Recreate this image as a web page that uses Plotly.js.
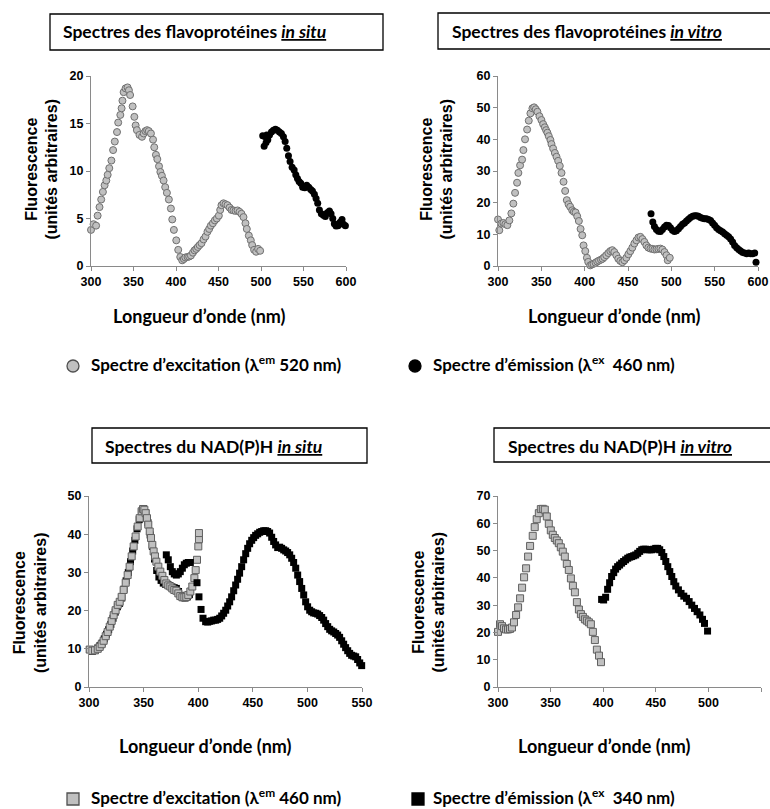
<!DOCTYPE html>
<html>
<head>
<meta charset="utf-8">
<script src="https://cdn.plot.ly/plotly-3.0.1.min.js"></script>
<style>html,body{margin:0;padding:0;background:#fff;}#chart{width:770px;height:809px;}</style>
</head>
<body>
<div id="chart"></div>
<script>
// ---- Flavoprotéines in situ ----
const flavoSituExcX = [300,303,306,307.8,310,312,314,316,318,319.6,321.5,324,326,328,330.6,332,334.5,336,337,338.4,340.7,343,344.6,346,349,351,352.5,354,357,360,362,364,366,368,370.5,373,374.4,376.4,378,380,381.6,383.4,385.4,387.3,389.3,391.6,394,395.6,397.5,400.3,402.6,405,407.3,409.3,411,413.6,415.5,417.5,419.9,421.8,423.8,425.7,427.7,430,432.4,434.7,437,439,441,443.4,445.7,448,450.4,452,453.5,455.9,458.2,460.6,463,465.3,467.6,470,472.4,474.7,477,479.4,481.7,483.3,485.7,488,489.6,491.9,494.3,496.6,499];
const flavoSituExcY = [3.8,4.4,4.25,5.3,6.2,7.0,7.8,8.5,9.0,9.6,10.3,11.1,12.2,13.1,14.1,15.1,15.9,16.6,17.4,18.3,18.7,18.8,18.5,18.0,16.8,15.7,14.8,14.3,13.8,13.6,13.95,14.2,14.3,14.2,13.95,13.3,12.5,11.7,11.25,10.5,9.9,9.5,9.0,8.3,7.7,7.0,6.05,4.9,3.8,2.7,1.7,0.95,0.6,0.74,0.9,0.95,1.0,1.1,1.4,1.65,1.8,2.0,2.2,2.4,2.8,3.1,3.6,3.9,4.25,4.5,4.8,5.0,5.3,5.9,6.4,6.6,6.5,6.4,6.15,5.9,5.85,5.8,5.85,5.7,5.5,5.15,4.5,3.9,3.2,2.7,2.2,1.7,1.5,1.8,1.6];
const flavoSituEmX = [502,505,506.8,503.7,506,508,510,512.3,514.6,517,519.3,521.7,524,526.4,528.4,530.3,532.3,534.2,536.6,539,540.9,542.9,544.8,546.8,549,551.5,553.8,556.2,558.5,560.5,562.8,564.8,566.7,568.7,571,573.4,575.7,578,580.5,582.4,584.4,586.3,588.3,590.6,593,595.3,597,599.3];
const flavoSituEmY = [13.7,13.6,13.8,12.6,13.0,13.3,13.8,14.1,14.3,14.4,14.3,14.1,13.95,13.6,13.1,12.4,11.6,11.0,10.4,10.1,9.6,9.2,8.9,8.7,8.3,8.25,8.5,8.3,8.05,7.9,7.55,7.1,6.6,5.9,5.5,5.35,5.2,5.6,5.8,5.5,5.0,4.45,4.2,4.25,4.6,4.9,4.4,4.25];

// ---- Flavoprotéines in vitro ----
const flavoVitroExcX = [300,301.5,303.9,306.2,308.5,310.8,313.1,315.4,317.7,319.7,322,323.5,325.5,327.8,329.3,331.2,333.6,335.5,337.4,339.7,341.7,343.6,345.5,347.8,350.1,352.1,354,355.5,357,358.6,360.5,361.7,363.6,365.6,367.5,369.4,371.3,373.3,375.6,377.5,379.4,381.4,383.3,385.6,387.5,389.5,391.4,393.3,395.3,397.2,398.7,400.7,402.6,404.1,406.4,408.4,410.3,412.6,414.5,416.5,418.8,420.7,422.6,424.9,427.3,429.6,431.9,434.2,436.5,438.8,441.1,443.5,445.8,448.1,450.4,452.7,455,457.3,459.7,462,464.3,466.6,468.9,471.2,473.5,475.9,478.2,480.5,482.8,485.1,487.4,489.7,492.1,494.4,495.9,498.2];
const flavoVitroExcY = [14.7,11.3,13.4,13.6,13.2,12.9,14.4,16.6,19.7,23.1,26.3,29.4,31.8,33.6,36.6,40.0,43.1,45.9,48.2,49.8,50.1,49.5,48.7,47.3,46.1,44.8,43.8,42.9,42.1,41.0,39.8,38.5,37.1,35.7,34.5,33.2,31.6,29.4,26.6,23.7,20.8,19.5,18.7,17.6,17.1,16.9,15.7,14.2,11.7,9.7,6.5,4.7,2.6,1.3,0.2,0.5,0.7,1.05,1.4,1.7,2.0,2.3,2.8,3.4,4.1,4.7,5.0,4.4,3.4,2.3,1.6,1.2,1.8,2.6,3.7,4.7,5.8,7.1,8.1,9.0,9.2,8.5,7.6,6.5,5.8,5.5,5.4,5.2,5.3,5.4,5.5,5.2,4.4,3.4,1.8,2.6];
const flavoVitroEmX = [476.6,478.6,480.5,482.8,485.1,487.4,489.7,492.1,494.4,496.7,499,501.3,503.6,505.9,508.3,510.6,512.9,515.2,517.5,519.8,522.1,524.5,526.8,529.1,531.4,533.7,536,538.3,540.6,543,545.3,547.6,549.9,552.2,554.5,556.8,559.2,561.5,563.8,566.1,568.4,570.7,573,575.4,577.7,580,582.3,584.6,586.9,589.2,591.5,593.9,596.2,597.7];
const flavoVitroEmY = [16.5,13.9,12.5,11.5,11.0,10.9,11.5,12.3,12.9,12.8,12.1,11.3,10.9,11.1,11.8,12.5,13.2,13.6,14.2,14.8,15.3,15.7,15.9,15.9,15.7,15.3,15.1,14.9,14.9,14.7,14.4,13.6,12.9,12.1,11.5,11.1,10.7,10.2,9.7,9.2,8.5,7.6,6.5,5.8,5.2,4.7,4.3,4.1,3.9,4.1,3.9,3.9,4.1,1.2];

// ---- NAD(P)H in situ ----
const nadSituEmLowX = [300.6,303,305.5,308,310,312,314,316,318,320,322,324,326,328,330,332,334,336,338,340,342,344,346,348,350,352,354,356,358,360,362,364,366,368,370,372,374,376,378,380,382,384,386,388,390,392];
const nadSituEmLowY = [9.8,9.3,9.6,10.2,10.8,11.5,12.6,13.8,15.0,16.4,18.0,19.6,21.0,21.9,23.3,25.6,27.8,30.0,32.8,35.6,38.4,41.4,43.8,45.8,46.7,45.6,43.0,39.8,36.8,33.5,30.5,28.8,27.9,27.2,26.9,26.8,26.5,26.2,26.0,25.8,25.0,24.0,23.4,23.3,23.6,24.2];
const nadSituExcX = [300.6,303,305.5,308,309.8,311.6,313.4,315.3,317.1,319,320.8,322.6,324.4,326.3,328.1,329.9,331.7,333.6,335.4,337.2,339.1,340.9,342.7,344.6,346.4,348.2,349.5,350.7,351.9,353.1,354.3,355.6,356.8,358,359.2,360.4,361.7,363.5,365.3,367.2,369,370.8,372.6,374.5,376.3,378.1,380,381.8,383.6,385.5,387.3,389.1,390.9,392.8,394.6,396.5,397.7,398.9,400.1,400.7,400.7];
const nadSituExcY = [9.8,9.5,9.6,10.0,10.5,11.2,12.1,13.3,14.4,15.8,17.3,18.8,20.1,21.5,22.3,23.6,25.4,27.3,29.3,31.5,34.2,36.8,39.4,42.0,44.2,46.0,46.6,46.4,45.5,44.2,42.5,40.7,39.0,37.2,35.5,34.2,32.8,31.5,30.2,29.1,28.0,27.1,26.6,26.3,25.8,25.4,25.2,24.5,23.8,23.5,23.5,23.6,24.1,25.0,26.3,28.5,30.6,33.3,36.8,38.7,40.3];
const nadSituEmX = [370.8,372.6,374.5,376.3,378.1,380,381.8,383.6,385.5,387.3,389.1,390.9,392.8,398.9,400.7,402.6,404.4,406.8,408.7,410.5,412.3,414.2,416,417.8,419.7,421.5,423.3,425.2,427,428.8,430.6,432.5,434.3,436.1,437.9,439.8,441.6,443.5,445.3,447.1,449,450.8,452.6,454.5,456.3,458.1,460,461.8,463.6,465.4,467.3,469.1,470.9,472.8,474.6,476.4,478.3,480.1,481.9,483.8,485.6,487.4,489.3,491.1,492.9,494.8,496.6,498.4,500.2,502.1,503.9,505.7,507.6,509.4,511.2,513.1,514.9,516.7,518.6,520.4,522.2,524.1,525.9,527.7,529.5,531.4,533.2,535,536.9,538.7,540.5,542.4,544.2,546,547.9,549.7];
const nadSituEmY = [34.6,33.3,31.5,30.2,29.6,29.3,29.6,30.2,31.1,32.0,32.4,32.6,32.6,27.3,23.6,20.3,18.0,17.1,17.0,17.2,17.3,17.5,17.5,17.7,18.0,18.6,19.3,20.1,21.2,22.3,23.6,25.2,26.7,28.2,29.8,31.5,33.3,34.9,36.3,37.5,38.4,39.1,39.7,40.1,40.5,40.7,40.9,40.9,40.7,40.3,39.2,38.1,37.2,36.5,36.6,36.3,35.9,35.6,35.2,34.6,33.7,32.6,31.1,29.3,27.6,25.8,24.1,22.3,21.0,20.1,19.7,19.4,19.3,19.1,18.7,18.2,17.5,16.6,15.8,15.1,14.7,14.4,14.0,13.6,13.0,12.1,11.2,10.3,9.5,8.8,8.3,8.1,7.9,7.2,6.3,5.6];

// ---- NAD(P)H in vitro ----
const nadVitroExcX = [300,301.9,303.8,305.7,307.6,309.5,311.4,313.3,315.2,317.2,319.1,321,322.9,324.8,326.7,328.6,330.5,333,334.9,336.8,338.8,340.7,342.6,344.5,346.4,348.3,350.2,352.1,354,355.9,357.8,359.7,361.6,363.5,365.4,367.3,369.3,371.2,373.1,375,376.9,378.8,380.7,382.6,384.5,386.4,388.3,390.2,392.1,394,396,397.9];
const nadVitroExcY = [20.2,23.0,22.3,21.5,21.1,21.1,21.3,21.8,23.7,26.4,29.2,32.5,36.4,40.2,43.5,47.8,51.7,55.4,58.6,61.5,63.7,65.2,65.3,65.0,62.5,59.8,57.4,55.8,54.6,53.7,52.7,51.2,49.6,47.8,45.1,42.9,39.8,37.1,34.7,31.1,28.4,26.7,25.7,24.8,24.3,23.7,23.0,20.2,17.2,13.7,11.5,9.1];
const nadVitroEmX = [398.5,400.4,402.3,404.2,406.1,408,410,411.8,413.7,415.6,417.5,419.4,421.3,423.3,425.2,427.1,429,430.9,432.8,434.7,436.6,438.5,440.4,442.3,444.2,446.1,448,449.9,451.8,453.7,455.7,457.6,459.5,461.4,463.3,465.2,467.1,469,471.5,474,476.6,479.2,481.7,484.2,486.8,489.3,491.9,494.4,496.3,499.2];
const nadVitroEmY = [32.1,31.9,32.9,35.8,38.2,40.5,41.9,43.2,44.1,44.7,45.4,46.0,46.6,47.2,47.6,47.8,48.1,48.4,49.0,49.7,50.3,50.5,50.5,50.3,50.3,50.3,50.5,50.8,50.8,50.3,49.3,47.8,46.0,44.1,42.3,40.5,38.6,37.0,35.6,34.3,33.3,32.5,31.3,30.0,28.8,27.6,26.4,24.8,23.3,20.5];

// ---- tick values ----
const flavoXTicks = [300,350,400,450,500,550,600];
const flavoSituYTicks = [0,5,10,15,20];
const flavoVitroYTicks = [0,10,20,30,40,50,60];
const nadXTicks = [300,350,400,450,500,550];
const nadSituYTicks = [0,10,20,30,40,50];
const nadVitroYTicks = [0,10,20,30,40,50,60,70];

const W = 770, H = 809;
const px = v => v / W;
const py = v => 1 - v / H;

const grayCircle = {symbol:'circle', size:7, color:'#c0c0c0', line:{color:'#707070', width:1}};
const blackCircle = {symbol:'circle', size:7, color:'#000000', line:{color:'#000000', width:0}};
const graySquare = {symbol:'square', size:7, color:'#c0c0c0', line:{color:'#606060', width:1}};
const blackSquare = {symbol:'square', size:7, color:'#000000', line:{color:'#000000', width:0}};

function tr(x, y, m, xa, ya) {
  return {x:x, y:y, type:'scatter', mode:'markers', marker:m, xaxis:xa, yaxis:ya, cliponaxis:false, showlegend:false, hoverinfo:'x+y'};
}

const data = [
  tr(flavoSituExcX, flavoSituExcY, grayCircle, 'x', 'y'),
  tr(flavoSituEmX, flavoSituEmY, blackCircle, 'x', 'y'),
  tr(flavoVitroExcX, flavoVitroExcY, grayCircle, 'x2', 'y2'),
  tr(flavoVitroEmX, flavoVitroEmY, blackCircle, 'x2', 'y2'),
  tr(nadSituEmLowX, nadSituEmLowY, blackSquare, 'x3', 'y3'),
  tr(nadSituExcX, nadSituExcY, graySquare, 'x3', 'y3'),
  tr(nadSituEmX, nadSituEmY, blackSquare, 'x3', 'y3'),
  tr(nadVitroExcX, nadVitroExcY, graySquare, 'x4', 'y4'),
  tr(nadVitroEmX, nadVitroEmY, blackSquare, 'x4', 'y4')
];

const tickFont = {family:'Liberation Sans, Arial, sans-serif', size:12.5, color:'#000', weight:'bold'};
function xax(dom, range, ticks, anchor) {
  return {domain:dom, range:range, tickvals:ticks, ticktext:ticks.map(String), anchor:anchor,
    showline:true, linecolor:'#8a8a8a', linewidth:1, ticks:'outside', ticklen:4, tickcolor:'#8a8a8a',
    showgrid:false, zeroline:false, tickfont:tickFont, fixedrange:true};
}
function yax(dom, range, ticks, anchor) {
  return {domain:dom, range:range, tickvals:ticks, ticktext:ticks.map(String), anchor:anchor,
    showline:true, linecolor:'#8a8a8a', linewidth:1, ticks:'outside', ticklen:4, tickcolor:'#8a8a8a',
    showgrid:false, zeroline:false, tickfont:tickFont, fixedrange:true};
}

const titleFont = {family:'Lato, Open Sans, sans-serif', size:17.5, color:'#000', weight:'bold'};
const yTitleFont = {family:'Liberation Sans, Arial, sans-serif', size:16, color:'#000', weight:'bold'};
const xTitleFont = {family:'Lato, Open Sans, sans-serif', size:18, color:'#000', weight:'bold'};
const legFont = {family:'Lato, Open Sans, sans-serif', size:17, color:'#000', weight:'bold'};

function ann(text, x, y, font, xanchor, angle) {
  return {text:text, x:px(x), y:py(y), xref:'paper', yref:'paper', showarrow:false,
    xanchor:xanchor || 'center', yanchor:'middle', font:font, textangle:angle || 0, align:'center'};
}
function box(x0, y0, x1, y1) {
  return {type:'rect', xref:'paper', yref:'paper', x0:px(x0), x1:px(x1), y0:py(y0), y1:py(y1),
    line:{color:'#000', width:1.3}, fillcolor:'rgba(0,0,0,0)'};
}
function sym(type, cx, cy, r, fill, lc) {
  return {type:type, xref:'paper', yref:'paper', x0:px(cx - r), x1:px(cx + r), y0:py(cy + r), y1:py(cy - r),
    line:{color:lc, width:1.3}, fillcolor:fill};
}

const layout = {
  width:W, height:H, margin:{l:0, r:0, t:0, b:0}, paper_bgcolor:'#fff', plot_bgcolor:'rgba(0,0,0,0)',
  showlegend:false,
  xaxis: xax([px(91), px(346)], [300,600], flavoXTicks, 'y'),
  yaxis: yax([py(266), py(76)], [0,20], flavoSituYTicks, 'x'),
  xaxis2: xax([px(498), px(758)], [300,600], flavoXTicks, 'y2'),
  yaxis2: yax([py(266), py(76)], [0,60], flavoVitroYTicks, 'x2'),
  xaxis3: xax([px(89), px(362)], [300,550], nadXTicks, 'y3'),
  yaxis3: yax([py(687), py(496)], [0,50], nadSituYTicks, 'x3'),
  xaxis4: xax([px(498), px(761)], [300,550], nadXTicks, 'y4'),
  yaxis4: yax([py(687), py(496)], [0,70], nadVitroYTicks, 'x4'),
  shapes: [
    box(50, 14, 383, 50),
    box(438, 13, 780, 49),
    box(92, 428, 367, 463),
    box(494, 428, 780, 462),
    sym('circle', 73, 366, 6, '#c0c0c0', '#505050'),
    sym('circle', 415, 366, 6, '#000', '#000'),
    sym('rect', 73, 799, 6, '#c0c0c0', '#505050'),
    sym('rect', 418, 799, 6, '#000', '#000')
  ],
  annotations: [
    ann('Spectres des flavoprotéines <i><u>in situ</u></i>', 61, 32, titleFont, 'left'),
    ann('Spectres des flavoprotéines <i><u>in vitro</u></i>', 450, 31, titleFont, 'left'),
    ann('Spectres du NAD(P)H <i><u>in situ</u></i>', 103, 446, titleFont, 'left'),
    ann('Spectres du NAD(P)H <i><u>in vitro</u></i>', 506, 446, titleFont, 'left'),
    ann('Fluorescence<br>(unités arbitraires)', 41.5, 170, yTitleFont, 'center', -90),
    ann('Fluorescence<br>(unités arbitraires)', 436.5, 170, yTitleFont, 'center', -90),
    ann('Fluorescence<br>(unités arbitraires)', 30, 603, yTitleFont, 'center', -90),
    ann('Fluorescence<br>(unités arbitraires)', 428.5, 603, yTitleFont, 'center', -90),
    ann('Longueur d’onde (nm)', 200, 316, xTitleFont),
    ann('Longueur d’onde (nm)', 614, 316, xTitleFont),
    ann('Longueur d’onde (nm)', 206, 746, xTitleFont),
    ann('Longueur d’onde (nm)', 604, 746, xTitleFont),
    ann('Spectre d’excitation (λ<sup>em</sup> 520 nm)', 89, 364, legFont, 'left'),
    ann('Spectre d’émission (λ<sup>ex</sup>  460 nm)', 431, 364, legFont, 'left'),
    ann('Spectre d’excitation (λ<sup>em</sup> 460 nm)', 89, 796, legFont, 'left'),
    ann('Spectre d’émission (λ<sup>ex</sup>  340 nm)', 431, 796, legFont, 'left')
  ]
};

Plotly.newPlot('chart', data, layout, {displayModeBar:false, staticPlot:true});
</script>
</body>
</html>
